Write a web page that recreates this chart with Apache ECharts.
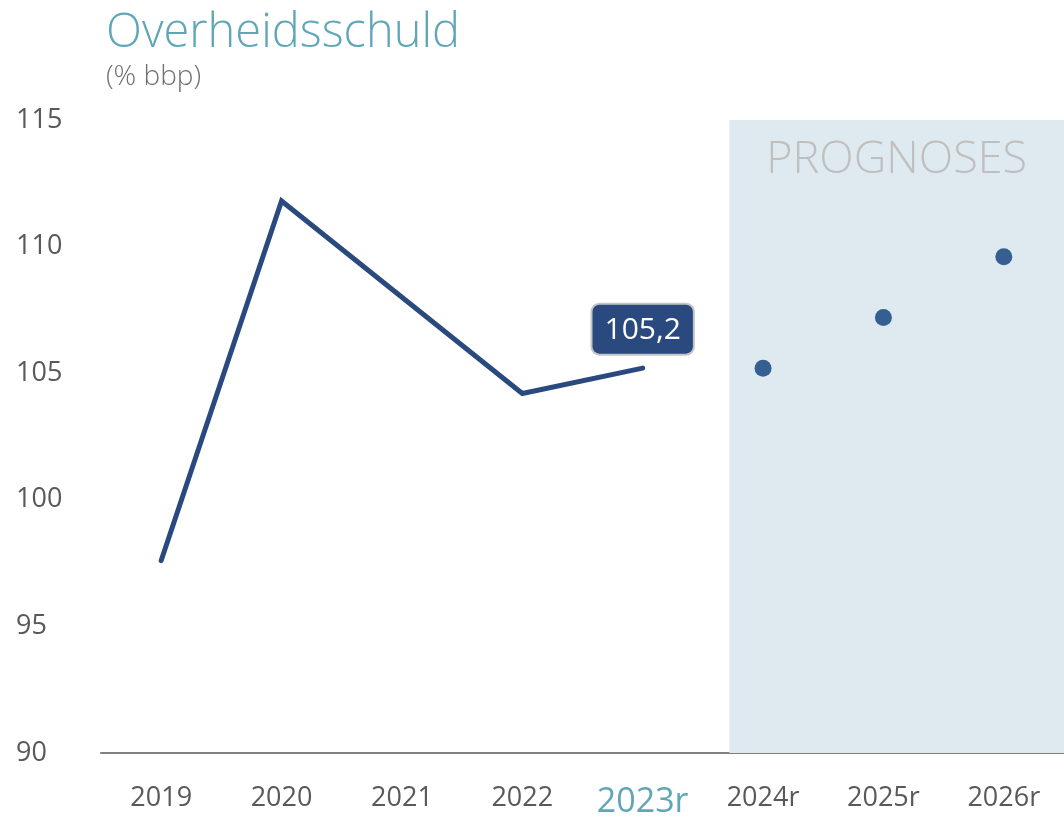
<!DOCTYPE html>
<html lang="nl">
<head>
  <meta charset="UTF-8">
  <title>Overheidsschuld</title>
  <style>
    html, body { margin: 0; padding: 0; background: #fff; }
    #chart { width: 1064px; height: 819px; }
  </style>
  <script src="https://cdn.jsdelivr.net/npm/echarts@6/dist/echarts.min.js"></script>
</head>
<body>
  <div id="chart"></div>
  <script>
    // gegevens
    const jaren = ['2019', '2020', '2021', '2022', '2023r', '2024r', '2025r', '2026r'];
    const realisatie = [97.6, 111.8, 108.0, 104.2, 105.2, null, null, null];
    const prognose = [null, null, null, null, null, 105.2, 107.2, 109.6];
    const yTicks = [90, 95, 100, 105, 110, 115];
    const prognoseVan = 4.72; // begin gekleurd vlak (positie op categorie-as)

    const font = '"Open Sans", "Noto Sans", sans-serif';
    const chart = echarts.init(document.getElementById('chart'));

    chart.setOption({
      animation: false,
      textStyle: { fontFamily: font },
      title: {
        text: 'Overheidsschuld',
        subtext: '(% bbp)',
        left: 101,
        top: 5,
        itemGap: 6,
        textStyle: { fontSize: 47, fontWeight: 300, color: '#5fa6b7', fontFamily: font },
        subtextStyle: { fontSize: 28, fontWeight: 300, color: '#6f6f6f', fontFamily: font }
      },
      grid: { left: 101, right: 0, top: 120, bottom: 60 },
      xAxis: [
        {
          type: 'category',
          data: jaren,
          axisLine: { lineStyle: { color: '#808080', width: 2 } },
          axisTick: { show: false },
          axisLabel: {
            interval: 0,
            margin: 32,
            fontSize: 27,
            color: '#595959',
            formatter: v => v === '2023r' ? '{hl|' + v + '}' : v,
            rich: { hl: { fontSize: 34, color: '#5fa6b7', fontFamily: font } }
          }
        },
        { type: 'value', min: -0.5, max: jaren.length - 0.5, show: false }
      ],
      yAxis: {
        type: 'value',
        min: yTicks[0],
        max: yTicks[yTicks.length - 1],
        interval: 5,
        splitLine: { show: false },
        axisLine: { show: false },
        axisTick: { show: false },
        axisLabel: { align: 'left', margin: 85, fontSize: 27, color: '#595959' }
      },
      series: [
        {
          type: 'scatter',
          xAxisIndex: 1,
          data: [],
          silent: true,
          markArea: {
            silent: true,
            itemStyle: { color: '#deeaef' },
            label: {
              show: true,
              position: 'insideTop',
              distance: 18,
              fontSize: 45,
              fontWeight: 300,
              color: '#bfbfbf',
              fontFamily: font
            },
            data: [[
              { name: 'PROGNOSES', xAxis: prognoseVan, yAxis: yTicks[0] },
              { xAxis: jaren.length - 0.5, yAxis: yTicks[yTicks.length - 1] }
            ]]
          },
          z: 1
        },
        {
          type: 'line',
          data: realisatie.map((v, i) => ({
            value: v,
            label: i === 4 ? {
              show: true,
              position: 'top',
              distance: 14,
              formatter: p => p.value.toFixed(1).replace('.', ','),
              fontSize: 30,
              color: '#ffffff',
              backgroundColor: '#2a4a7f',
              borderColor: '#c4c4c4',
              borderWidth: 2,
              borderRadius: 7,
              padding: [11, 12, 8, 12]
            } : { show: false }
          })),
          showSymbol: true,
          symbol: 'circle',
          symbolSize: 1,
          itemStyle: { color: '#2a4a7f' },
          lineStyle: { color: '#2a4a7f', width: 5, cap: 'round', join: 'miter' },
          z: 3
        },
        {
          type: 'scatter',
          data: prognose,
          symbolSize: 17,
          itemStyle: { color: '#365f91', opacity: 1 },
          z: 3
        }
      ]
    });
  </script>
</body>
</html>
